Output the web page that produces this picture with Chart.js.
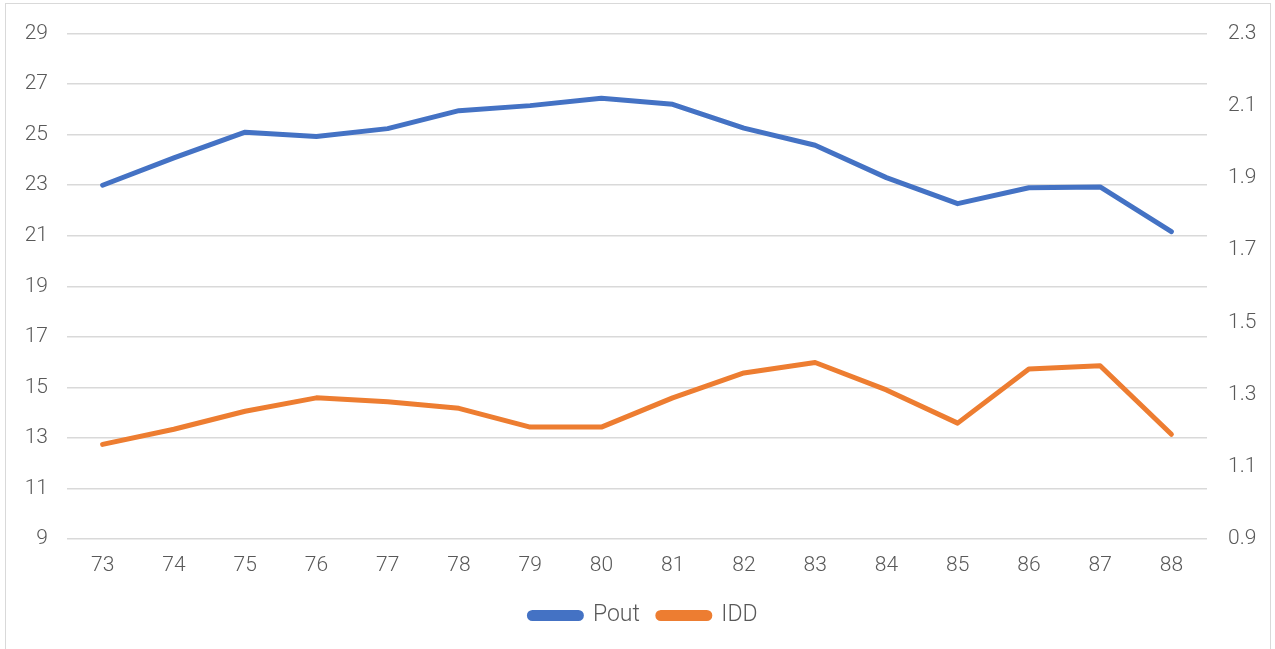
<!DOCTYPE html>
<html lang="en">
<head>
  <meta charset="UTF-8" />
  <title>Pout / IDD</title>
  <script src="https://cdn.jsdelivr.net/npm/chart.js"></script>
  <style>
    body {
      margin: 0;
      background: #fff;
      overflow: hidden;
    }
    canvas {
      display: block;
    }
  </style>
</head>
<body>
  <canvas id="chart" width="1275" height="649"></canvas>

  <script>
    // data
    const categories = ['73', '74', '75', '76', '77', '78', '79', '80', '81', '82', '83', '84', '85', '86', '87', '88'];
    const pout = [23.0, 24.08, 25.1, 24.93, 25.24, 25.95, 26.15, 26.44, 26.2, 25.26, 24.58, 23.3, 22.27, 22.9, 22.93, 21.16];
    const idd = [1.162, 1.204, 1.254, 1.291, 1.28, 1.262, 1.21, 1.21, 1.291, 1.36, 1.389, 1.313, 1.221, 1.371, 1.38, 1.19];
    const leftTicks = { min: 9, max: 29, step: 2 };
    const rightTicks = { min: 0.9, max: 2.3, step: 0.2 };

    const textColor = '#595959';
    const fontFamily = "Roboto, 'Noto Sans', 'Liberation Sans', sans-serif";
    Chart.defaults.font.family = fontFamily;
    Chart.defaults.font.size = 21;
    Chart.defaults.font.weight = 300;
    Chart.defaults.color = textColor;

    // light grey frame around the chart, like the office chart box
    const frame = {
      id: 'frame',
      beforeDraw(chart) {
        const c = chart.ctx;
        c.save();
        c.fillStyle = '#fff';
        c.fillRect(0, 0, chart.width, chart.height);
        c.strokeStyle = '#d9d9d9';
        c.lineWidth = 1;
        c.strokeRect(5.5, 3.5, 1265, 700);
        c.restore();
      }
    };

    const ctx = document.getElementById('chart').getContext('2d');
    new Chart(ctx, {
      type: 'line',
      data: {
        labels: categories,
        datasets: [{
          label: 'Pout',
          data: pout,
          yAxisID: 'y',
          borderColor: '#4472C4',
          backgroundColor: '#4472C4',
          borderWidth: 5,
          pointRadius: 0,
          borderJoinStyle: 'round',
          borderCapStyle: 'round',
          tension: 0
        }, {
          label: 'IDD',
          data: idd,
          yAxisID: 'y1',
          borderColor: '#ED7D31',
          backgroundColor: '#ED7D31',
          borderWidth: 5,
          pointRadius: 0,
          borderJoinStyle: 'round',
          borderCapStyle: 'round',
          tension: 0
        }]
      },
      options: {
        responsive: false,
        animation: false,
        layout: {
          padding: { top: 31, left: 12, right: 0, bottom: 12 }
        },
        plugins: {
          tooltip: { enabled: false },
          legend: {
            position: 'bottom',
            labels: {
              boxWidth: 52,
              boxHeight: 6,
              padding: 18,
              useBorderRadius: true,
              borderRadius: 3,
              font: { size: 23 },
              color: textColor
            }
          }
        },
        scales: {
          x: {
            offset: true,
            grid: { display: false },
            border: { display: false },
            ticks: { padding: 6, maxRotation: 0, autoSkip: false },
            afterFit(scale) { scale.height = 47; }
          },
          y: {
            position: 'left',
            min: leftTicks.min,
            max: leftTicks.max,
            ticks: { stepSize: leftTicks.step, padding: 19 },
            grid: { color: '#d9d9d9', lineWidth: 1.5, drawTicks: false },
            border: { display: false },
            afterFit(scale) { scale.width = 55; }
          },
          y1: {
            position: 'right',
            min: rightTicks.min,
            max: rightTicks.max,
            ticks: {
              stepSize: rightTicks.step,
              padding: 21,
              callback: v => v.toFixed(1)
            },
            grid: { display: false, drawTicks: false },
            border: { display: false },
            afterFit(scale) { scale.width = 68; }
          }
        }
      },
      plugins: [frame]
    });
  </script>
</body>
</html>
